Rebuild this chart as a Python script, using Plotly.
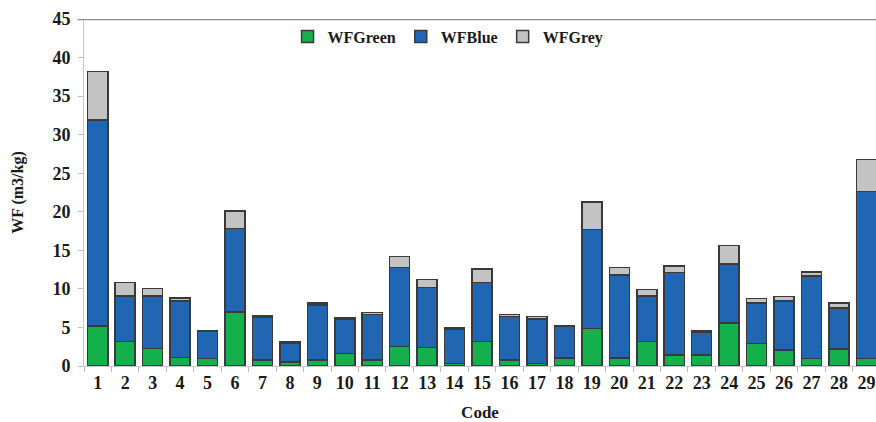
import plotly.graph_objects as go

# Water footprint components per product code (m3/kg)
codes = [str(i) for i in range(1, 30)]
wf_green = [5.2, 3.2, 2.3, 1.1, 0.95, 7.0, 0.75, 0.5, 0.75, 1.65, 0.75, 2.55, 2.4, 0.3, 3.15,
            0.75, 0.3, 1.05, 4.85, 1.05, 3.15, 1.4, 1.45, 5.6, 2.9, 2.05, 1.0, 2.2, 0.95]
wf_blue = [26.7, 5.85, 6.75, 7.3, 3.5, 10.8, 5.6, 2.5, 7.15, 4.35, 5.95, 10.2, 7.8, 4.45, 7.7,
           5.65, 5.8, 4.1, 12.85, 10.75, 5.9, 10.7, 2.95, 7.65, 5.25, 6.4, 10.7, 5.35, 21.7]
wf_grey = [6.3, 1.75, 1.0, 0.45, 0.15, 2.3, 0.15, 0.15, 0.25, 0.25, 0.25, 1.45, 1.05, 0.15, 1.7,
           0.25, 0.3, 0.1, 3.6, 1.0, 0.85, 0.85, 0.15, 2.4, 0.6, 0.55, 0.5, 0.6, 4.15]

series = [
    ("WFGreen", wf_green, "#14b04c"),
    ("WFBlue", wf_blue, "#2166b2"),
    ("WFGrey", wf_grey, "#c3c3c3"),
]

FONT = "'Liberation Serif', 'Times New Roman', serif"
TXT = "#1a1a1a"

fig = go.Figure()
for name, vals, color in series:
    fig.add_trace(go.Bar(
        x=codes, y=vals, name=name,
        marker=dict(color=color, line=dict(color="#3a3a3a", width=1.5)),
    ))

fig.update_layout(
    barmode="stack",
    bargap=0.27,
    width=876, height=422,
    margin=dict(l=84, r=0, t=19, b=56),
    plot_bgcolor="white", paper_bgcolor="white",
    font=dict(family=FONT, color=TXT),
    showlegend=True,
    legend=dict(
        orientation="h", x=0.257, y=0.998, xanchor="left", yanchor="top",
        font=dict(family=FONT, size=16, color=TXT, weight="bold"),
        bgcolor="rgba(0,0,0,0)", itemwidth=30, traceorder="normal",
    ),
    xaxis=dict(
        type="category", range=[-0.5, 28.35],
        tickson="boundaries", ticks="outside", ticklen=5, tickcolor="#bdbdbd",
        showline=True, linecolor="#c8c8c8", linewidth=1,
        showgrid=False, zeroline=False,
        tickfont=dict(family=FONT, size=18, color=TXT, weight="bold"),
        title=dict(text="Code", standoff=14,
                   font=dict(family=FONT, size=17, color=TXT, weight="bold")),
    ),
    yaxis=dict(
        range=[0, 45], dtick=5,
        ticks="outside", ticklen=5, tickcolor="#bdbdbd",
        ticklabelstandoff=4,
        showline=True, linecolor="#c8c8c8", linewidth=1,
        showgrid=False, zeroline=False,
        tickfont=dict(family=FONT, size=18, color=TXT, weight="bold"),
        title=dict(text="WF (m3/kg)", standoff=24,
                   font=dict(family=FONT, size=16, color=TXT, weight="bold")),
    ),
    shapes=[dict(type="line", xref="paper", yref="y", x0=-0.008, x1=1, y0=45, y1=45,
                 line=dict(color="#8c8c8c", width=2.5))],
)

fig.write_html("out.html")
